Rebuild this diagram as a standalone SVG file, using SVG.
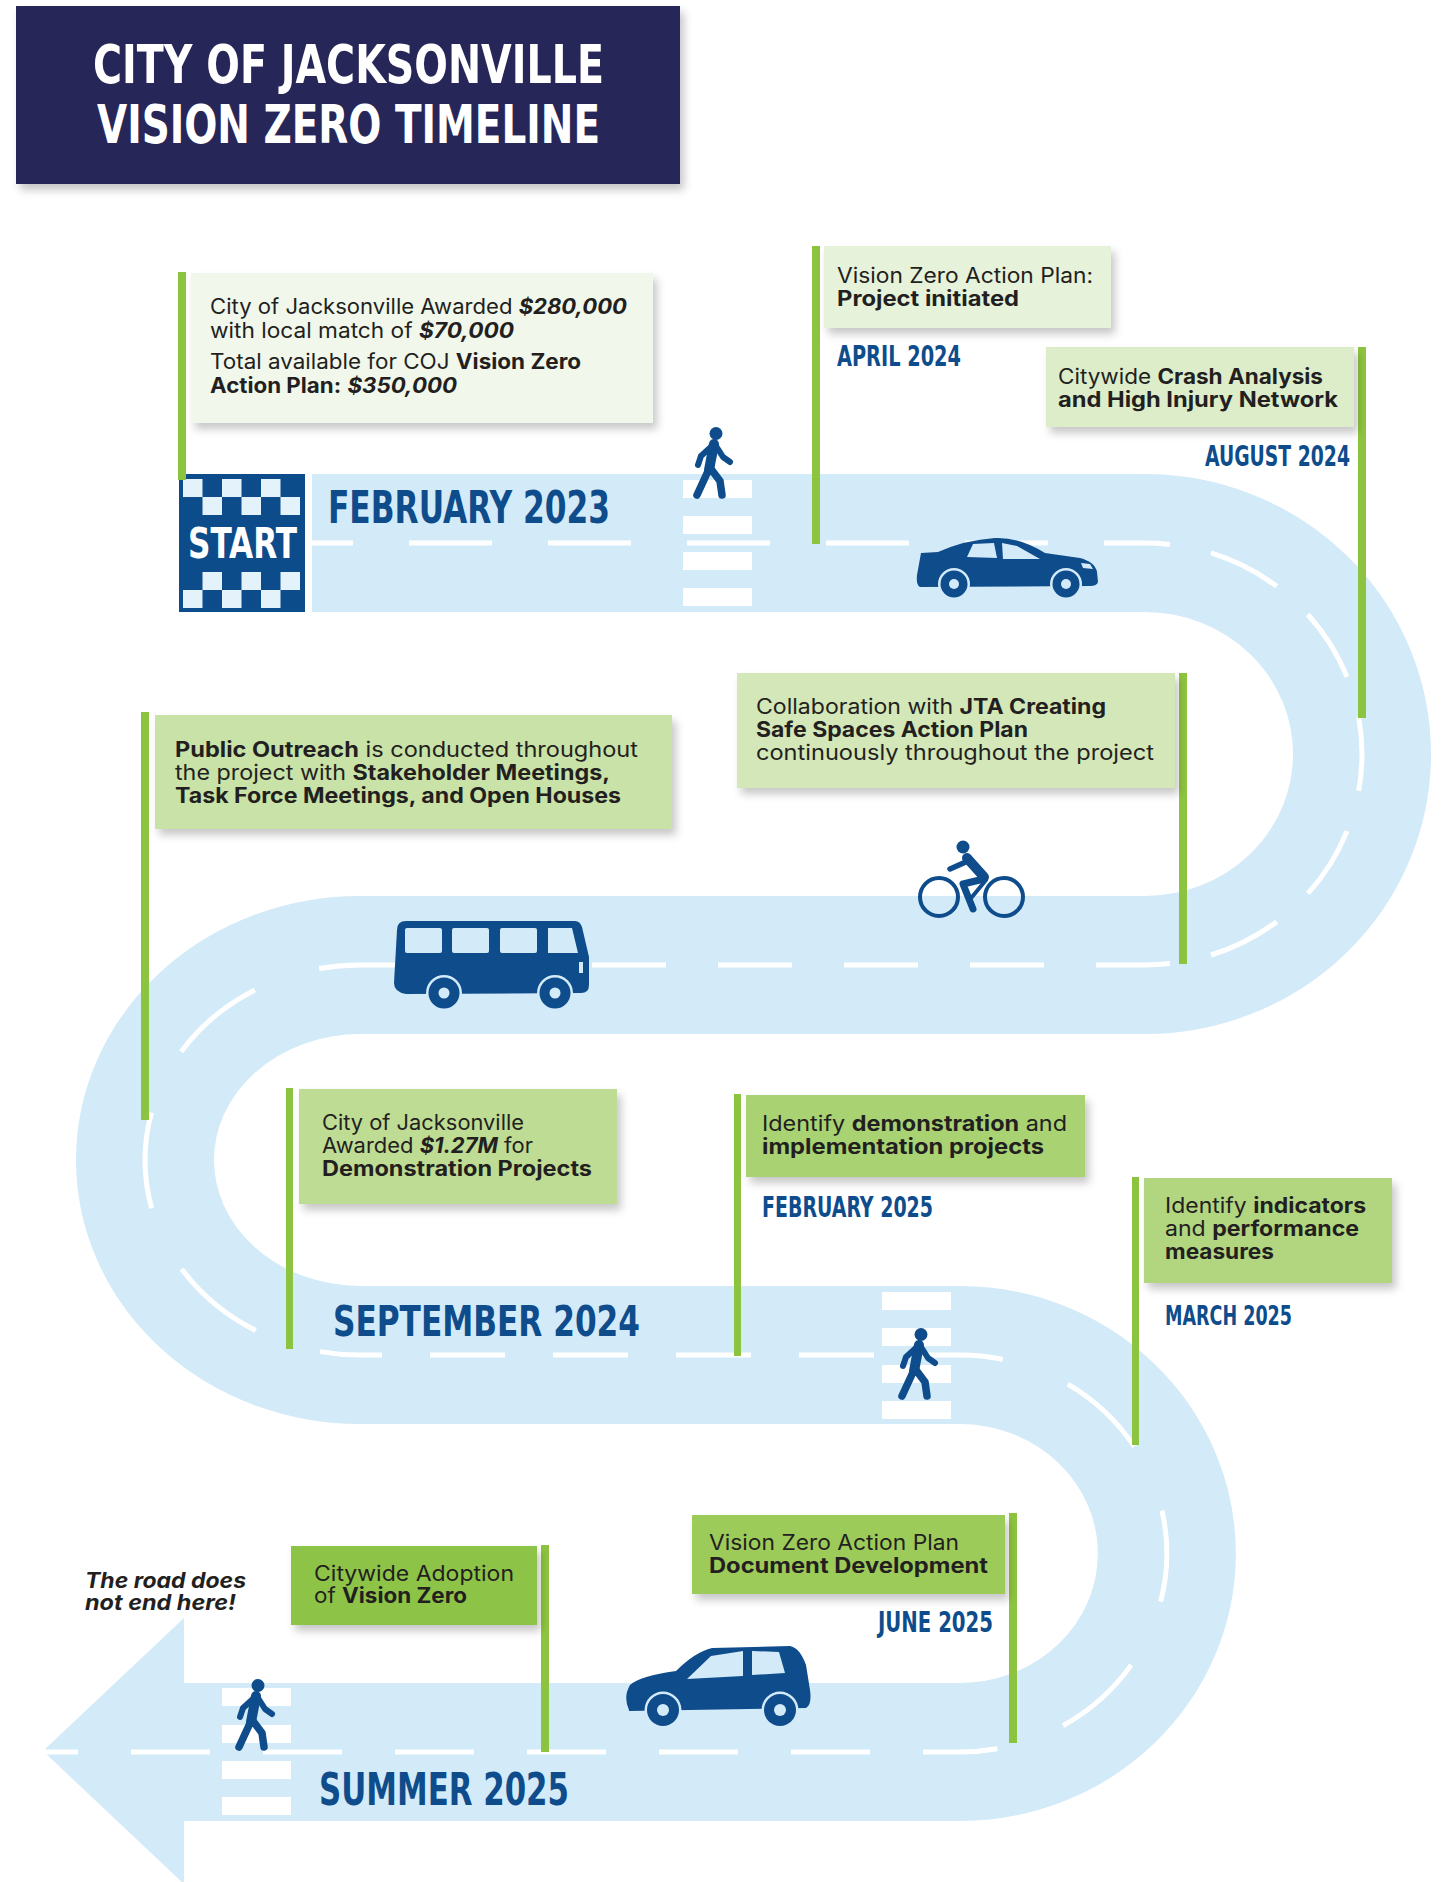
<svg xmlns="http://www.w3.org/2000/svg" xmlns:xlink="http://www.w3.org/1999/xlink" width="1454" height="1882" viewBox="0 0 1454 1882">
  <defs>
    <style>
      .road { fill: none; stroke: #D3EAF8; stroke-width: 138; }
      .dash { fill: none; stroke: #FFFFFF; stroke-width: 5; }
      .stripe { fill: #FFFFFF; }
      .bar { fill: #8DC43F; }
      .box { filter: url(#shadow); }
      .t { font-family: Inter, "Open Sans", "Liberation Sans", sans-serif; font-size: 21px; fill: #231F20; }
      .b { font-weight: 700; }
      .bi { font-weight: 700; font-style: italic; }
      .d { font-family: "Liberation Sans Narrow", "DejaVu Sans Condensed", "Liberation Sans", sans-serif; font-weight: 700; fill: #0E4C8C; }
      .w { fill: #FFFFFF; }
      .icon { fill: #0E4C8C; }
      .lite { fill: #D3EAF8; }
    </style>
    <filter id="shadow" x="-10%" y="-20%" width="125%" height="150%">
      <feDropShadow dx="4" dy="6" stdDeviation="4" flood-color="#000000" flood-opacity="0.22"/>
    </filter>
    <!-- walking figure, 42 x 72 -->
    <g id="walker">
      <circle cx="24" cy="6.5" r="6.5" fill="#0E4C8C"/>
      <g fill="none" stroke="#0E4C8C" stroke-linecap="round" stroke-linejoin="round">
        <path d="M22 17 L17 43" stroke-width="10"/>
        <path d="M20 19 L9 29 L6 38" stroke-width="6"/>
        <path d="M24 19 L31 30 L38 35" stroke-width="6"/>
        <path d="M17 42 L11 55 L5 68" stroke-width="7.5"/>
        <path d="M19 42 L28 54 L30 68" stroke-width="7.5"/>
      </g>
    </g>
  </defs>

  <rect width="1454" height="1882" fill="#FFFFFF"/>

  <!-- heading -->
  <g id="title">
    <rect x="16" y="6" width="664" height="178" fill="#262858" class="box"/>
    <text class="d w" x="93" y="83" font-size="53" textLength="511" lengthAdjust="spacingAndGlyphs">CITY OF JACKSONVILLE</text>
    <text class="d w" x="97" y="143" font-size="53" textLength="503" lengthAdjust="spacingAndGlyphs">VISION ZERO TIMELINE</text>
  </g>

  <!-- the road: connector running through every milestone -->
  <g id="road">
    <path class="road" d="M312 543 H1145 A217 211 0 0 1 1145 965 H360 A215 195 0 0 0 360 1355 H960 A207 198.5 0 0 1 960 1752 H184"/>
    <path d="M184 1618 L43 1751 L184 1884 Z" fill="#D3EAF8"/>
    <!-- centre line -->
    <path class="dash" d="M312 543 H1145" stroke-dasharray="83 56" stroke-dashoffset="42"/>
    <path class="dash" d="M1145 543 A217 211 0 0 1 1145 965" stroke-dasharray="74 42" stroke-dashoffset="49"/>
    <path class="dash" d="M1145 965 H360" stroke-dasharray="74 52" stroke-dashoffset="25"/>
    <path class="dash" d="M360 965 A215 195 0 0 0 360 1355" stroke-dasharray="97 68" stroke-dashoffset="56"/>
    <path class="dash" d="M360 1355 H960" stroke-dasharray="75 48" stroke-dashoffset="53"/>
    <path class="dash" d="M960 1355 A207 198.5 0 0 1 960 1752" stroke-dasharray="92 70" stroke-dashoffset="49"/>
    <path class="dash" d="M960 1752 H43" stroke-dasharray="79 53" stroke-dashoffset="42"/>
    <!-- crosswalks -->
    <g class="stripe">
      <rect x="683" y="480" width="69" height="18"/>
      <rect x="683" y="516" width="69" height="18"/>
      <rect x="683" y="552" width="69" height="18"/>
      <rect x="683" y="588" width="69" height="18"/>
      <rect x="882" y="1292" width="69" height="18"/>
      <rect x="882" y="1328" width="69" height="18"/>
      <rect x="882" y="1365" width="69" height="18"/>
      <rect x="882" y="1401" width="69" height="18"/>
      <rect x="222" y="1688" width="69" height="18"/>
      <rect x="222" y="1725" width="69" height="18"/>
      <rect x="222" y="1761" width="69" height="18"/>
      <rect x="222" y="1797" width="69" height="18"/>
    </g>
  </g>

  <!-- travellers on the road -->
  <g id="travellers">
    <use xlink:href="#walker" href="#walker" transform="translate(692 427)"/>
    <use xlink:href="#walker" href="#walker" transform="translate(897 1328)"/>
    <use xlink:href="#walker" href="#walker" transform="translate(234 1679)"/>

    <!-- sedan -->
    <g id="sedan">
      <path class="icon" d="M921 553 L938 552 Q965 540 995 538 Q1020 537 1045 553 L1080 558 Q1095 562 1097 572 L1098 582 Q1097 586 1090 586 L920 587 Q916 585 917 575 Z"/>
      <polygon class="lite" points="967,557 973,544 994,543 997,558"/>
      <polygon class="lite" points="1002,543 1017,546 1040,559 1003,559"/>
      <path class="lite" d="M1081 563 L1090 564 L1093 569 L1083 568 Z"/>
      <circle class="lite" cx="954" cy="584" r="16"/>
      <circle class="icon" cx="954" cy="584" r="13.5"/>
      <circle class="lite" cx="954" cy="584" r="5"/>
      <circle class="lite" cx="1066" cy="584" r="16"/>
      <circle class="icon" cx="1066" cy="584" r="13.5"/>
      <circle class="lite" cx="1066" cy="584" r="5"/>
    </g>

    <!-- cyclist -->
    <g id="cyclist">
      <circle cx="939" cy="897" r="19" fill="none" stroke="#0E4C8C" stroke-width="4"/>
      <circle cx="1004" cy="897" r="19" fill="none" stroke="#0E4C8C" stroke-width="4"/>
      <circle class="icon" cx="963" cy="847" r="6.5"/>
      <g fill="none" stroke="#0E4C8C" stroke-linecap="round" stroke-linejoin="round">
        <path d="M967 858 L984 877" stroke-width="10"/>
        <path d="M968 861 L950 869" stroke-width="5.5"/>
        <path d="M984 879 L963 884 L973 909" stroke-width="7"/>
        <path d="M972 897 L986 880" stroke-width="4"/>
      </g>
    </g>

    <!-- bus -->
    <g id="bus">
      <path class="icon" d="M397 930 Q397 921 406 921 L575 921 Q580 921 582 927 L589 957 L589 985 Q589 993 581 993 L406 994 Q394 992 394 983 Z"/>
      <rect class="lite" x="405" y="928" width="37" height="25" rx="2"/>
      <rect class="lite" x="452" y="928" width="37" height="25" rx="2"/>
      <rect class="lite" x="500" y="928" width="37" height="25" rx="2"/>
      <polygon class="lite" points="548,928 572,928 578,953 548,953"/>
      <rect class="lite" x="579" y="962" width="4" height="11"/>
      <circle class="lite" cx="444" cy="993" r="18"/>
      <circle class="icon" cx="444" cy="993" r="15.5"/>
      <circle class="lite" cx="444" cy="993" r="5.5"/>
      <circle class="lite" cx="555" cy="993" r="18"/>
      <circle class="icon" cx="555" cy="993" r="15.5"/>
      <circle class="lite" cx="555" cy="993" r="5.5"/>
    </g>

    <!-- hatchback -->
    <g id="hatchback">
      <path class="icon" d="M629 1710 Q623 1697 630 1685 Q640 1676 676 1671 Q695 1652 712 1648 L790 1646 Q800 1648 806 1665 L810 1690 Q812 1705 806 1708 L629 1711 Z"/>
      <polygon class="lite" points="687,1679 711,1656 743,1651 743,1676"/>
      <polygon class="lite" points="752,1651 779,1652 785,1673 752,1675"/>
      <circle class="lite" cx="663" cy="1710" r="18.5"/>
      <circle class="icon" cx="663" cy="1710" r="16"/>
      <circle class="lite" cx="663" cy="1710" r="6"/>
      <circle class="lite" cx="780" cy="1710" r="18.5"/>
      <circle class="icon" cx="780" cy="1710" r="16"/>
      <circle class="lite" cx="780" cy="1710" r="6"/>
    </g>
  </g>

  <!-- start flag -->
  <g id="start">
    <rect x="179" y="474" width="126" height="138" fill="#0D4C8B"/>
    <g fill="#E4F2FC">
      <rect x="183" y="479" width="19.5" height="18"/>
      <rect x="222" y="479" width="19.5" height="18"/>
      <rect x="261" y="479" width="19.5" height="18"/>
      <rect x="202.5" y="497" width="19.5" height="18"/>
      <rect x="241.5" y="497" width="19.5" height="18"/>
      <rect x="280.5" y="497" width="19.5" height="18"/>
      <rect x="202.5" y="572" width="19.5" height="18"/>
      <rect x="241.5" y="572" width="19.5" height="18"/>
      <rect x="280.5" y="572" width="19.5" height="18"/>
      <rect x="183" y="590" width="19.5" height="18"/>
      <rect x="222" y="590" width="19.5" height="18"/>
      <rect x="261" y="590" width="19.5" height="18"/>
    </g>
    <text class="d w" x="188" y="558" font-size="43" textLength="109" lengthAdjust="spacingAndGlyphs">START</text>
  </g>

  <!-- milestones -->
  <g id="m-feb-2023">
    <rect class="bar" x="178" y="272" width="8" height="208"/>
    <rect class="box" x="191" y="273" width="462" height="150" fill="#F1F7EB"/>
    <text class="t" x="210" y="314" textLength="417" lengthAdjust="spacingAndGlyphs">City of Jacksonville Awarded <tspan class="bi">$280,000</tspan></text>
    <text class="t" x="210" y="338" textLength="304" lengthAdjust="spacingAndGlyphs">with local match of <tspan class="bi">$70,000</tspan></text>
    <text class="t" x="210" y="369" textLength="371" lengthAdjust="spacingAndGlyphs">Total available for COJ <tspan class="b">Vision Zero</tspan></text>
    <text class="t" x="210" y="393" textLength="247" lengthAdjust="spacingAndGlyphs"><tspan class="b">Action Plan:</tspan> <tspan class="bi">$350,000</tspan></text>
    <text class="d" x="328" y="523" font-size="45" textLength="282" lengthAdjust="spacingAndGlyphs">FEBRUARY 2023</text>
  </g>

  <g id="m-apr-2024">
    <rect class="bar" x="812" y="246" width="8" height="298"/>
    <rect class="box" x="824" y="246" width="287" height="82" fill="#E7F2DA"/>
    <text class="t" x="837" y="283" textLength="256" lengthAdjust="spacingAndGlyphs">Vision Zero Action Plan:</text>
    <text class="t b" x="837" y="306" textLength="182" lengthAdjust="spacingAndGlyphs">Project initiated</text>
    <text class="d" x="837" y="366" font-size="28" textLength="124" lengthAdjust="spacingAndGlyphs">APRIL 2024</text>
  </g>

  <g id="m-aug-2024">
    <rect class="bar" x="1358" y="347" width="8" height="371"/>
    <rect class="box" x="1046" y="347" width="308" height="80" fill="#DDEDC9"/>
    <text class="t" x="1058" y="384" textLength="265" lengthAdjust="spacingAndGlyphs">Citywide <tspan class="b">Crash Analysis</tspan></text>
    <text class="t b" x="1058" y="407" textLength="280" lengthAdjust="spacingAndGlyphs">and High Injury Network</text>
    <text class="d" x="1205" y="466" font-size="29" textLength="145" lengthAdjust="spacingAndGlyphs">AUGUST 2024</text>
  </g>

  <g id="m-jta">
    <rect class="bar" x="1179" y="673" width="8" height="291"/>
    <rect class="box" x="737" y="673" width="438" height="115" fill="#D3E7B8"/>
    <text class="t" x="756" y="714" textLength="350" lengthAdjust="spacingAndGlyphs">Collaboration with <tspan class="b">JTA Creating</tspan></text>
    <text class="t b" x="756" y="737" textLength="272" lengthAdjust="spacingAndGlyphs">Safe Spaces Action Plan</text>
    <text class="t" x="756" y="760" textLength="398" lengthAdjust="spacingAndGlyphs">continuously throughout the project</text>
  </g>

  <g id="m-outreach">
    <rect class="bar" x="141" y="712" width="8" height="408"/>
    <rect class="box" x="155" y="715" width="517" height="114" fill="#C9E2A7"/>
    <text class="t" x="175" y="757" textLength="463" lengthAdjust="spacingAndGlyphs"><tspan class="b">Public Outreach</tspan> is conducted throughout</text>
    <text class="t" x="175" y="780" textLength="435" lengthAdjust="spacingAndGlyphs">the project with <tspan class="b">Stakeholder Meetings,</tspan></text>
    <text class="t b" x="175" y="803" textLength="446" lengthAdjust="spacingAndGlyphs">Task Force Meetings, and Open Houses</text>
  </g>

  <g id="m-sep-2024">
    <rect class="bar" x="286" y="1088" width="7" height="261"/>
    <rect class="box" x="299" y="1089" width="318" height="115" fill="#BEDC93"/>
    <text class="t" x="322" y="1130" textLength="202" lengthAdjust="spacingAndGlyphs">City of Jacksonville</text>
    <text class="t" x="322" y="1153" textLength="211" lengthAdjust="spacingAndGlyphs">Awarded <tspan class="bi">$1.27M</tspan> for</text>
    <text class="t b" x="322" y="1176" textLength="270" lengthAdjust="spacingAndGlyphs">Demonstration Projects</text>
    <text class="d" x="333" y="1336" font-size="43" textLength="307" lengthAdjust="spacingAndGlyphs">SEPTEMBER 2024</text>
  </g>

  <g id="m-feb-2025">
    <rect class="bar" x="734" y="1094" width="7" height="262"/>
    <rect class="box" x="746" y="1095" width="339" height="82" fill="#A9D273"/>
    <text class="t" x="762" y="1131" textLength="305" lengthAdjust="spacingAndGlyphs">Identify <tspan class="b">demonstration</tspan> and</text>
    <text class="t b" x="762" y="1154" textLength="282" lengthAdjust="spacingAndGlyphs">implementation projects</text>
    <text class="d" x="762" y="1217" font-size="28" textLength="171" lengthAdjust="spacingAndGlyphs">FEBRUARY 2025</text>
  </g>

  <g id="m-mar-2025">
    <rect class="bar" x="1132" y="1177" width="7" height="268"/>
    <rect class="box" x="1144" y="1178" width="248" height="105" fill="#B2D680"/>
    <text class="t" x="1165" y="1213" textLength="201" lengthAdjust="spacingAndGlyphs">Identify <tspan class="b">indicators</tspan></text>
    <text class="t" x="1165" y="1236" textLength="194" lengthAdjust="spacingAndGlyphs">and <tspan class="b">performance</tspan></text>
    <text class="t b" x="1165" y="1259" textLength="109" lengthAdjust="spacingAndGlyphs">measures</text>
    <text class="d" x="1165" y="1325" font-size="27" textLength="127" lengthAdjust="spacingAndGlyphs">MARCH 2025</text>
  </g>

  <g id="m-jun-2025">
    <rect class="bar" x="1009" y="1513" width="8" height="230"/>
    <rect class="box" x="692" y="1515" width="313" height="79" fill="#9DCB5A"/>
    <text class="t" x="709" y="1550" textLength="250" lengthAdjust="spacingAndGlyphs">Vision Zero Action Plan</text>
    <text class="t b" x="709" y="1573" textLength="279" lengthAdjust="spacingAndGlyphs">Document Development</text>
    <text class="d" x="878" y="1632" font-size="28" textLength="115" lengthAdjust="spacingAndGlyphs">JUNE 2025</text>
  </g>

  <g id="m-summer-2025">
    <rect class="bar" x="541" y="1545" width="8" height="207"/>
    <rect class="box" x="291" y="1546" width="246" height="79" fill="#8DC346"/>
    <text class="t" x="314" y="1581" textLength="200" lengthAdjust="spacingAndGlyphs">Citywide Adoption</text>
    <text class="t" x="314" y="1603" textLength="153" lengthAdjust="spacingAndGlyphs">of <tspan class="b">Vision Zero</tspan></text>
    <text class="d" x="319" y="1805" font-size="45" textLength="250" lengthAdjust="spacingAndGlyphs">SUMMER 2025</text>
  </g>

  <g id="road-note">
    <text class="t bi" x="85" y="1588" textLength="161" lengthAdjust="spacingAndGlyphs">The road does</text>
    <text class="t bi" x="85" y="1610" textLength="151" lengthAdjust="spacingAndGlyphs">not end here!</text>
  </g>
</svg>
